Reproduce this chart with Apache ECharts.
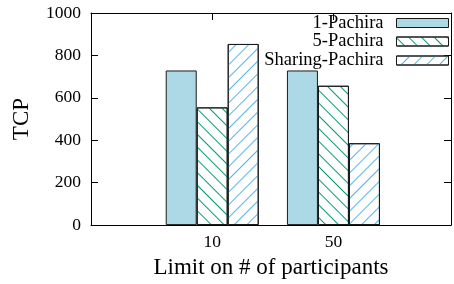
<!DOCTYPE html>
<html>
<head>
<meta charset="utf-8">
<script src="https://cdn.jsdelivr.net/npm/echarts@6/dist/echarts.min.js"></script>
<style>
  html, body { margin: 0; padding: 0; background: #fff; }
  #chart { width: 454px; height: 284px; }
</style>
</head>
<body>
<div id="chart"></div>
<script>
// categories sit at x = 0, 1 on a -1..2 value axis (like gnuplot)
var categories = ['10', '50'];
var onePachira = [729, 729];
var fivePachira = [555, 657];
var sharingPachira = [854, 386];
var yTicks = [0, 200, 400, 600, 800, 1000];

var serif = '"Liberation Serif", "DejaVu Serif", serif';

function toPoints(values) {
    return values.map(function (v, i) { return [i, v]; });
}

function hatch(color, rot) {
    return {
        symbol: 'rect',
        symbolSize: 1,
        dashArrayX: [1, 0],
        dashArrayY: [1, 7.5],
        rotation: rot,
        color: color
    };
}

var chart = echarts.init(document.getElementById('chart'));

var tickStyle = { show: true, inside: true, length: 7, lineStyle: { color: '#000', width: 1 } };
var lineStyle = { show: true, onZero: false, lineStyle: { color: '#000', width: 1 } };

var option = {
    animation: false,
    grid: { left: 91, top: 13, right: 1, bottom: 57 },
    xAxis: [{
        type: 'value',
        min: -1,
        max: 1.97,
        interval: 1,
        position: 'bottom',
        name: 'Limit on # of participants',
        nameLocation: 'middle',
        nameGap: 27,
        nameTextStyle: { fontFamily: serif, fontSize: 23, color: '#000' },
        axisLine: lineStyle,
        axisTick: tickStyle,
        splitLine: { show: false },
        axisLabel: {
            fontFamily: serif, fontSize: 17.5, color: '#000', margin: 8,
            formatter: function (v) { return categories[v] !== undefined ? categories[v] : ''; }
        }
    }, {
        type: 'value',
        min: -1,
        max: 1.97,
        interval: 1,
        position: 'top',
        axisLine: lineStyle,
        axisTick: tickStyle,
        splitLine: { show: false },
        axisLabel: { show: false }
    }],
    yAxis: [{
        type: 'value',
        min: yTicks[0],
        max: yTicks[yTicks.length - 1],
        interval: 200,
        name: 'TCP',
        nameLocation: 'middle',
        nameGap: 58,
        nameTextStyle: { fontFamily: serif, fontSize: 23, color: '#000' },
        axisLine: lineStyle,
        axisTick: tickStyle,
        splitLine: { show: false },
        axisLabel: {
            fontFamily: serif, fontSize: 17.5, color: '#000', margin: 10,
            formatter: function (v) { return String(v); }
        }
    }, {
        type: 'value',
        min: yTicks[0],
        max: yTicks[yTicks.length - 1],
        interval: 200,
        position: 'right',
        axisLine: lineStyle,
        axisTick: tickStyle,
        splitLine: { show: false },
        axisLabel: { show: false }
    }],
    legend: [
        { name: '1-Pachira', top: 13.5 },
        { name: '5-Pachira', top: 32 },
        { name: 'Sharing-Pachira', top: 51 }
    ].map(function (l) {
        return {
            data: [l.name],
            right: 5,
            top: l.top,
            padding: 0,
            align: 'right',
            icon: 'rect',
            itemWidth: 52,
            itemHeight: 9,
            itemStyle: { borderWidth: 1 },
            textStyle: { fontFamily: serif, fontSize: 18.5, color: '#000', lineHeight: 18, padding: [0, 8, 0, 0] }
        };
    }),
    series: [{
        name: '1-Pachira',
        type: 'bar',
        barWidth: 31,
        barGap: '0%',
        itemStyle: { color: '#add8e6', borderColor: '#1a1a1a', borderWidth: 1 },
        data: toPoints(onePachira)
    }, {
        name: '5-Pachira',
        type: 'bar',
        barWidth: 31,
        barGap: '0%',
        itemStyle: { color: '#fff', borderColor: '#1a1a1a', borderWidth: 1, decal: hatch('#009e73', Math.PI / 4) },
        data: toPoints(fivePachira)
    }, {
        name: 'Sharing-Pachira',
        type: 'bar',
        barWidth: 31,
        barGap: '0%',
        itemStyle: { color: '#fff', borderColor: '#1a1a1a', borderWidth: 1, decal: hatch('#56b4e9', -Math.PI / 4) },
        data: toPoints(sharingPachira)
    }]
};

chart.setOption(option);
</script>
</body>
</html>
